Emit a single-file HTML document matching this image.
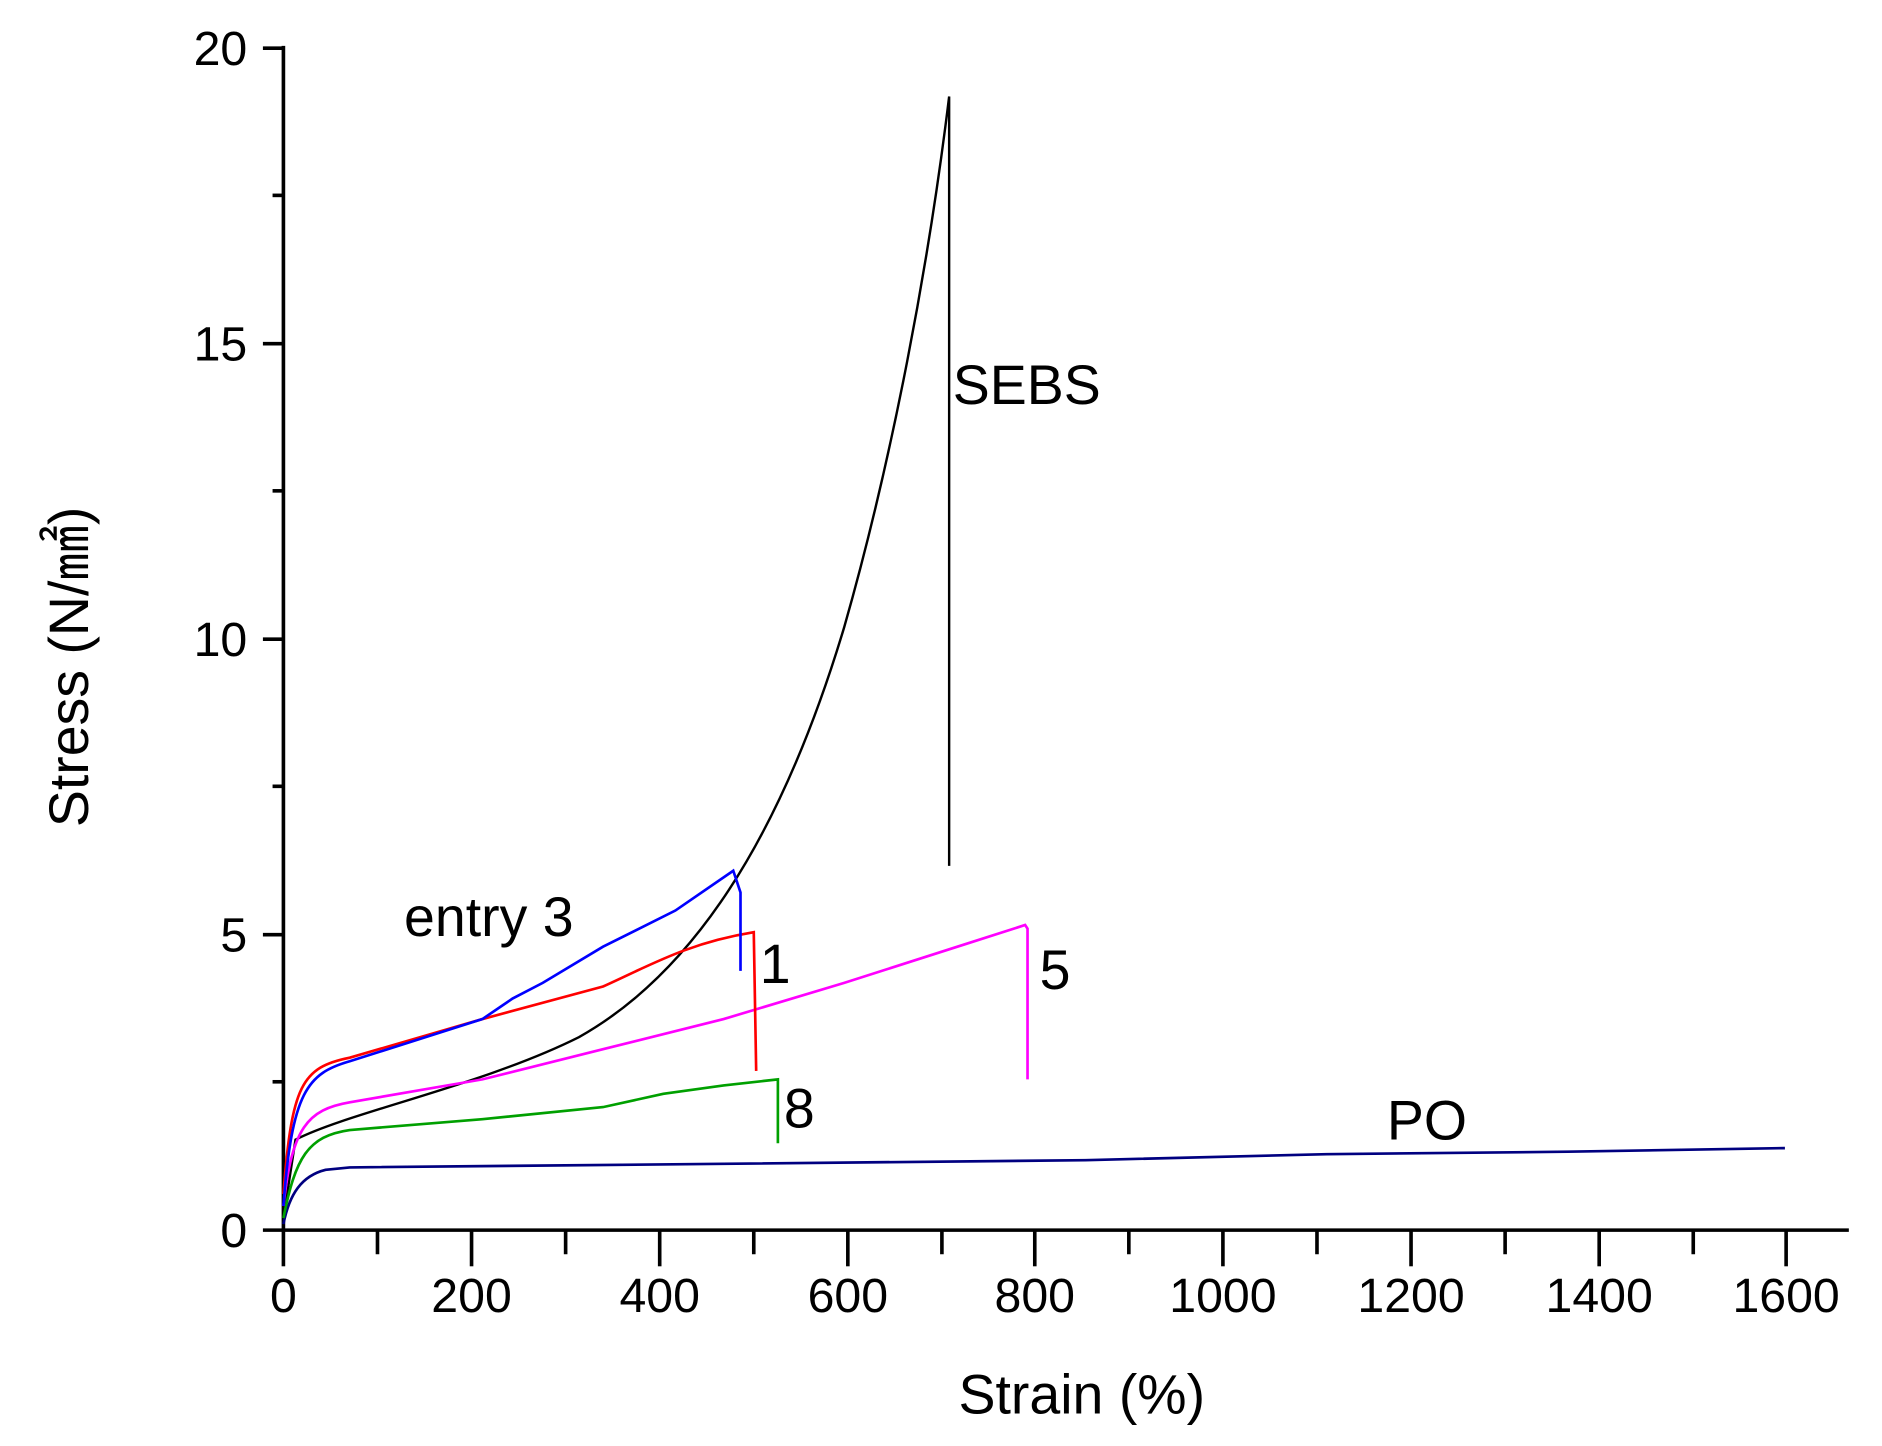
<!DOCTYPE html>
<html><head><meta charset="utf-8"><style>html,body{margin:0;padding:0;background:#fff}svg{display:block}</style></head>
<body>
<svg width="1882" height="1446" viewBox="0 0 1560.5 1199" preserveAspectRatio="none" xmlns="http://www.w3.org/2000/svg" font-family="Liberation Sans, sans-serif">
<g stroke="#000" stroke-width="3" fill="none">
<line x1="235" y1="38" x2="235" y2="1021"/>
<line x1="218" y1="1020" x2="1533" y2="1020"/>
<line x1="218" y1="40" x2="235" y2="40"/><line x1="226" y1="162" x2="235" y2="162"/>
<line x1="218" y1="285" x2="235" y2="285"/><line x1="226" y1="407" x2="235" y2="407"/>
<line x1="218" y1="530" x2="235" y2="530"/><line x1="226" y1="652" x2="235" y2="652"/>
<line x1="218" y1="775" x2="235" y2="775"/><line x1="226" y1="897" x2="235" y2="897"/>
<line x1="235" y1="1020" x2="235" y2="1050"/><line x1="313" y1="1020" x2="313" y2="1040"/>
<line x1="391" y1="1020" x2="391" y2="1050"/><line x1="469" y1="1020" x2="469" y2="1040"/>
<line x1="547" y1="1020" x2="547" y2="1050"/><line x1="625" y1="1020" x2="625" y2="1040"/>
<line x1="703" y1="1020" x2="703" y2="1050"/><line x1="781" y1="1020" x2="781" y2="1040"/>
<line x1="858" y1="1020" x2="858" y2="1050"/><line x1="936" y1="1020" x2="936" y2="1040"/>
<line x1="1014" y1="1020" x2="1014" y2="1050"/><line x1="1092" y1="1020" x2="1092" y2="1040"/>
<line x1="1170" y1="1020" x2="1170" y2="1050"/><line x1="1248" y1="1020" x2="1248" y2="1040"/>
<line x1="1326" y1="1020" x2="1326" y2="1050"/><line x1="1404" y1="1020" x2="1404" y2="1040"/>
<line x1="1481" y1="1020" x2="1481" y2="1050"/>
</g>
<g font-size="40" text-anchor="end" fill="#000">
<text x="205" y="54">20</text><text x="205" y="299">15</text><text x="205" y="544">10</text><text x="205" y="789">5</text><text x="205" y="1034">0</text>
</g>
<g font-size="40" text-anchor="middle" fill="#000">
<text x="235" y="1088">0</text><text x="391" y="1088">200</text><text x="547" y="1088">400</text><text x="703" y="1088">600</text><text x="858" y="1088">800</text><text x="1014" y="1088">1000</text><text x="1170" y="1088">1200</text><text x="1326" y="1088">1400</text><text x="1481" y="1088">1600</text>
</g>
<text x="897" y="1172" font-size="46" text-anchor="middle">Strain (%)</text>
<text transform="translate(73,553) rotate(-90)" font-size="46" text-anchor="middle">Stress (N/㎟)</text>
<g fill="none" stroke-width="2.2">
<path stroke="#000" stroke-width="2" d="M235,1010 L245,945 C290,922 400,900 480,860 C560,815 640,720 700,520 C740,380 770,220 787,80 L787,718"/>
<path stroke="#000080" d="M235,1015 C240,990 250,975 270,970 L290,968 L600,965 L900,962 L1100,957 L1300,955 L1480,952"/>
<path stroke="#00a000" d="M235,1010 C245,960 255,942 290,937 L400,928 L500,918 L550,907 L600,900 L645,895 L645,948"/>
<path stroke="#ff00ff" d="M235,1000 C242,935 255,920 290,914 L400,895 L500,870 L600,845 L700,815 L800,783 L850,767 L852,770 L852,895"/>
<path stroke="#ff0000" d="M235,990 C242,900 250,885 290,877 L400,845 L500,818 C540,800 570,782 625,773 L627,888"/>
<path stroke="#0000ff" d="M235,1000 C242,905 255,890 290,880 L400,845 L425,828 L450,815 L500,785 L560,755 L608,722 L614,740 L614,805"/>
</g>
<g font-size="46" fill="#000">
<text x="790" y="335">SEBS</text>
<text x="335" y="776">entry 3</text>
<text x="630" y="815">1</text>
<text x="862" y="820">5</text>
<text x="650" y="935">8</text>
<text x="1150" y="945">PO</text>
</g>
</svg>
</body></html>
